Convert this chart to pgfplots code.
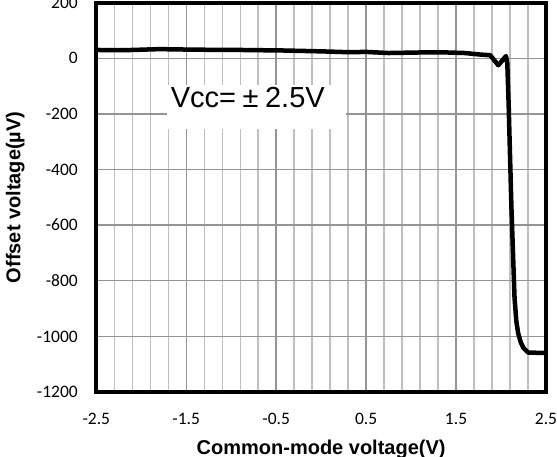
\documentclass[border=0pt]{standalone}
\usepackage{fontspec}
\setmainfont{Liberation Sans}
\newfontfamily\carlito{Carlito}
\usepackage{pgfplots}
\pgfplotsset{compat=1.18}
\begin{document}
\begin{tikzpicture}
\begin{axis}[
  at={(0,0)}, anchor=south west,
  scale only axis,
  width=449.7pt, height=389.3pt,
  xmin=-2.5, xmax=2.5, ymin=-1200, ymax=200,
  xtick={-2.5,-1.5,-0.5,0.5,1.5,2.5},
  xticklabels={-2.5,-1.5,-0.5,0.5,1.5,2.5},
  minor xtick={-2.3,-2.1,-1.9,-1.7,-1.3,-1.1,-0.9,-0.7,-0.3,-0.1,0.1,0.3,0.7,0.9,1.1,1.3,1.7,1.9,2.1,2.3},
  ytick={-1200,-1000,-800,-600,-400,-200,0,200},
  yticklabels={-1200,-1000,-800,-600,-400,-200,0,200},
  major tick length=0pt, minor tick length=0pt,
  xmajorgrids, ymajorgrids, xminorgrids,
  major grid style={color=black!42, line width=1.4pt},
  minor grid style={color=black!25, line width=1.4pt},
  axis line style={line width=4pt, line cap=rect},
  /pgf/number format/assume math mode=true,
  ticklabel style={font=\carlito\fontsize{17.5}{20}\selectfont, inner sep=0pt},
  yticklabel style={anchor=east, xshift=-18.3pt},
  xticklabel style={anchor=north, yshift=-21.3pt},
  xlabel={Common-mode voltage(V)},
  ylabel={Offset voltage(µV)},
  label style={font=\bfseries\fontsize{20}{24}\selectfont, inner sep=0pt},
  xlabel style={at={(axis description cs:0.5,-0.1593)}, anchor=base},
  ylabel style={at={(axis description cs:-0.169,0.5)}, anchor=base},
]
\fill[white] (axis cs:-1.714,-96) rectangle (axis cs:0.276,-254);
\node[anchor=base west, inner sep=0pt, font=\fontsize{29}{34}\selectfont] at (axis cs:-1.673,-176) {Vcc=\hspace{6.5pt}±\hspace{6.5pt}2.5V};
\addplot[black, line width=4.5pt, line join=round, line cap=round] coordinates {
(-2.5,30) (-2.2,29) (-1.8,33) (-1.4,31) (-0.9,30) (-0.4,28) (0.0,25) (0.3,22) (0.5,23) (0.75,19) (1.1,21) (1.4,21) (1.6,19) (1.75,14) (1.88,11) (1.97,-25) (2.055,8) (2.07,-20) (2.085,-170) (2.115,-530) (2.15,-860) (2.17,-945) (2.19,-988) (2.22,-1022) (2.25,-1042) (2.30,-1058) (2.5,-1060)
};
\end{axis}
\pgfresetboundingbox
\useasboundingbox (-96.3pt,-65pt) rectangle (460.7pt,392pt);
\end{tikzpicture}
\end{document}
